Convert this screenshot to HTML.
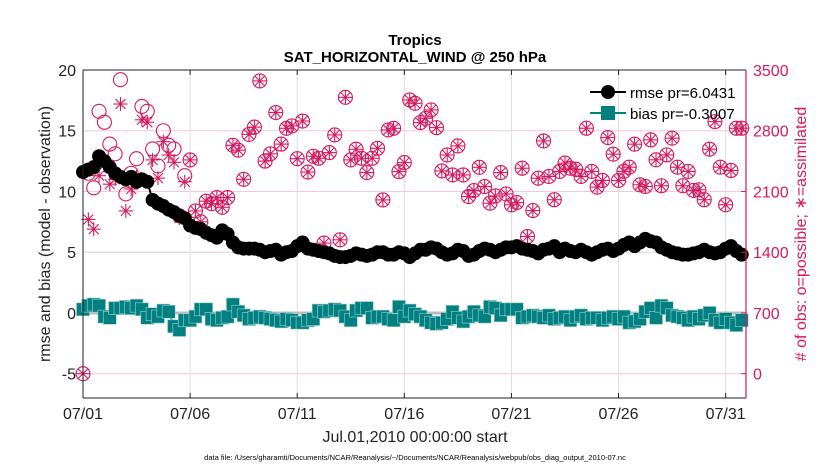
<!DOCTYPE html>
<html><head><meta charset="utf-8"><style>
body{margin:0;background:#fff;width:830px;height:470px;overflow:hidden}
svg text{font-family:"Liberation Sans",sans-serif}
</style></head><body>
<svg id="chart" width="830" height="470" viewBox="0 0 830 470" xmlns="http://www.w3.org/2000/svg">
<text x="415" y="45" text-anchor="middle" font-size="15" font-weight="bold">Tropics</text>
<text x="415" y="62" text-anchor="middle" font-size="15" font-weight="bold">SAT_HORIZONTAL_WIND @ 250 hPa</text>
<g id="grid"></g><g id="marks"></g><g id="axes"></g>
<text transform="translate(50,234) rotate(-90)" text-anchor="middle" font-size="16" fill="#222">rmse and bias (model - observation)</text>
<text transform="translate(806,234) rotate(-90)" text-anchor="middle" font-size="16" fill="#d6195f">#  of obs: o=possible; ∗=assimilated</text>
<text x="415" y="442" text-anchor="middle" font-size="16" fill="#222">Jul.01,2010 00:00:00 start</text>
<text x="415" y="460" text-anchor="middle" font-size="7.5" fill="#000">data file: /Users/gharamti/Documents/NCAR/Reanalysis/~/Documents/NCAR/Reanalysis/webpub/obs_diag_output_2010-07.nc</text>
<g id="legend">
<line x1="590" y1="92" x2="626" y2="92" stroke="#000" stroke-width="2"/><circle cx="608" cy="92" r="7" fill="#000"/>
<text x="630" y="98" font-size="15">rmse pr=6.0431</text>
<line x1="590" y1="113" x2="626" y2="113" stroke="#008080" stroke-width="2"/><rect x="601" y="106" width="14" height="14" fill="#008080"/>
<text x="630" y="119" font-size="15">bias pr=-0.3007</text>
</g>
</svg>
<script>
const xTickLabels=["07/01","07/06","07/11","07/16","07/21","07/26","07/31"];
const xTickDays=[0,5,10,15,20,25,30];
const leftTicks=[-5,0,5,10,15,20];
const rightTicks=[0,700,1400,2100,2800,3500];
const rmse=[11.6,11.8,12.0,12.9,12.5,12.0,11.5,11.2,11.0,11.2,10.8,11.0,10.8,9.3,9.0,8.8,8.5,8.3,8.0,7.8,7.2,7.0,6.9,6.6,6.4,6.2,6.8,6.5,5.8,5.4,5.3,5.3,5.3,5.2,5.0,5.1,5.2,4.8,5.0,5.1,5.5,5.8,5.3,5.2,5.1,5.0,4.9,4.7,4.6,4.6,4.7,4.9,4.8,4.7,4.8,5.0,5.0,4.8,4.8,5.0,4.9,4.6,4.9,5.2,5.2,5.4,5.3,5.0,4.8,4.9,5.2,5.1,4.7,4.8,5.1,5.3,5.2,5.0,5.2,5.4,5.4,5.5,5.3,5.2,5.1,4.9,5.2,5.3,5.5,5.0,5.3,5.1,5.0,5.2,5.0,4.8,5.0,5.2,5.3,5.1,5.3,5.6,5.8,5.5,5.8,6.1,5.9,5.8,5.4,5.2,5.0,4.9,4.8,4.8,4.9,5.0,5.2,5.0,4.9,5.0,5.3,5.5,5.1,4.8];
const bias=[0.3,0.6,0.7,0.6,-0.3,-0.4,0.4,0.4,0.5,0.4,0.6,0.3,-0.4,-0.1,-0.3,0.2,0.1,-1.1,-1.4,-0.6,-0.6,-0.3,0.3,0.3,-0.5,-0.6,-0.4,-0.3,0.7,0.1,-0.2,-0.5,-0.4,-0.3,-0.4,-0.5,-0.6,-0.7,-0.5,-0.6,-0.8,-0.8,-0.6,-0.5,0.2,0.1,0.2,0.3,0.2,-0.3,-0.6,0.2,0.4,0.4,-0.4,-0.3,-0.3,-0.5,-0.6,0.5,-0.3,0.2,-0.1,-0.3,-0.6,-0.8,-0.9,-0.8,-0.5,0.1,-0.4,-0.7,-0.3,0.1,-0.2,-0.3,0.5,0.4,-0.2,0.3,0.3,0.3,-0.4,-0.3,-0.2,-0.3,-0.4,-0.2,-0.5,-0.4,-0.3,-0.6,-0.3,-0.2,-0.5,-0.4,-0.4,-0.6,-0.4,-0.3,-0.5,-0.3,-0.8,-0.7,-0.5,0.1,0.4,-0.4,0.6,0.4,-0.2,-0.3,-0.4,-0.6,-0.3,-0.5,-0.2,0.0,-0.6,-0.8,-0.5,-0.8,-1.0,-0.6];
const possible=[0,2310,2142,3024,2898,2646,2534,3388,2072,2310,2478,3080,3024,2590,2394,2800,2632,2590,1820,2282,2464,1876,1750,1988,1960,2030,1918,2030,2632,2576,2240,2758,2842,3374,2450,2534,3010,2646,2828,2856,2478,2912,2324,2506,2483,1505,2548,2752,1543,3185,2464,2587,2483,2318,2483,2598,2003,2809,2828,2329,2433,3155,3116,2894,2943,3040,2836,2337,2521,2291,2625,2291,2042,2111,2379,2157,1965,2049,2318,2072,1946,1972,2368,1581,1880,2253,2683,2273,2005,2331,2427,2369,2357,2273,2829,2331,2150,2227,2721,2530,2227,2331,2380,2645,2177,2158,2695,2465,2166,2522,2714,2380,2166,2331,2112,2120,2005,2587,2905,2380,1947,2342,2829,2829];
const assimilated=[0,1778,1666,2282,2408,2184,2240,3108,1876,2128,2268,2926,2898,2464,2254,2674,2520,2436,1792,2212,2464,1876,1750,1988,1960,2030,1918,2030,2632,2576,2240,2758,2842,3374,2450,2534,3010,2646,2828,2856,2478,2912,2324,2506,2483,1505,2548,2752,1543,3185,2464,2587,2483,2318,2483,2598,2003,2809,2828,2329,2433,3155,3116,2894,2943,3040,2836,2337,2521,2291,2625,2291,2042,2111,2379,2157,1965,2049,2318,2072,1946,1972,2368,1581,1880,2253,2683,2273,2005,2331,2427,2369,2357,2273,2829,2331,2150,2227,2721,2530,2227,2331,2380,2645,2177,2158,2695,2465,2166,2522,2714,2380,2166,2331,2112,2120,2005,2587,2905,2380,1947,2342,2829,2829];

const L=83,R=746,T=70,B=398;
const xMin=0,xMax=30.95,yMin=-7,yMax=20;
const X=d=>L+(d-xMin)/(xMax-xMin)*(R-L);
const Y=v=>T+(yMax-v)/(yMax-yMin)*(B-T);
const Yr=o=>Y(o/140-5);
const NS="http://www.w3.org/2000/svg";
function mk(parent,tag,attrs){const e=document.createElementNS(NS,tag);for(const k in attrs)e.setAttribute(k,attrs[k]);parent.appendChild(e);return e;}
const grid=document.getElementById('grid'),marks=document.getElementById('marks'),axes=document.getElementById('axes');
const PINK="#d6195f",TEAL="#008080";
mk(grid,'rect',{x:L,y:T,width:R-L,height:B-T,fill:"#fff"});
leftTicks.forEach(v=>{
  const g=mk(grid,'line',{x1:L,x2:R,y1:Y(v),y2:Y(v),stroke:"#f7c6d8","stroke-width":1});
  
  
  const t=mk(axes,'text',{x:L-7,y:Y(v)+6,"text-anchor":"end","font-size":16,fill:"#222"});t.textContent=v;
  
  
});
xTickDays.forEach((d,i)=>{
  const g=mk(grid,'line',{x1:X(d),x2:X(d),y1:T,y2:B,stroke:"#ddd","stroke-width":1});
  
  
  mk(axes,'line',{x1:X(d),x2:X(d),y1:B,y2:B-5,stroke:"#222"});
  mk(axes,'line',{x1:X(d),x2:X(d),y1:T,y2:T+5,stroke:"#222"});
  const t=mk(axes,'text',{x:X(d),y:B+21,"text-anchor":"middle","font-size":16,fill:"#222"});t.textContent=xTickLabels[i];
  
  
});
rightTicks.forEach(o=>{
  mk(axes,'line',{x1:R,x2:R-5,y1:Yr(o),y2:Yr(o),stroke:PINK});
  const t=mk(axes,'text',{x:R+7,y:Yr(o)+6,"font-size":16,fill:PINK});t.textContent=o;
  
  
});
const zl=mk(grid,'line',{x1:L,x2:R,y1:Y(0),y2:Y(0),stroke:"#bbb","stroke-width":3});


possible.forEach((o,i)=>{
  const x=X(i/4),y=Yr(o);
  const c=mk(marks,'circle',{cx:x,cy:y,r:7,fill:"none",stroke:PINK,"stroke-width":1.1});
  
  
});
assimilated.forEach((o,i)=>{
  const x=X(i/4),y=Yr(o);
  const g=mk(marks,'g',{stroke:PINK,"stroke-width":1.1});
  
  
  for(let a=0;a<4;a++){const ang=a*Math.PI/4,dx=7*Math.cos(ang),dy=7*Math.sin(ang);mk(g,'line',{x1:x-dx,y1:y-dy,x2:x+dx,y2:y+dy});}
});
const bp=bias.map((v,i)=>X(i/4)+","+Y(v)).join(" ");
mk(marks,'polyline',{points:bp,fill:"none",stroke:TEAL,"stroke-width":2});
bias.forEach((v,i)=>{
  const r=mk(marks,'rect',{x:X(i/4)-6.5,y:Y(v)-6.5,width:13,height:13,fill:TEAL,stroke:"#9fd3d0","stroke-width":0.6});
  
  
});
const rp=rmse.map((v,i)=>X(i/4)+","+Y(v)).join(" ");
mk(marks,'polyline',{points:rp,fill:"none",stroke:"#000","stroke-width":2});
rmse.forEach((v,i)=>{
  const c=mk(marks,'circle',{cx:X(i/4),cy:Y(v),r:7,fill:"#000"});
  
  
});
mk(axes,'line',{x1:L,x2:L,y1:T,y2:B,stroke:"#222","stroke-width":1});
mk(axes,'line',{x1:L,x2:R,y1:B,y2:B,stroke:"#222","stroke-width":1});
mk(axes,'line',{x1:L,x2:R,y1:T,y2:T,stroke:"#222","stroke-width":1});
mk(axes,'line',{x1:R,x2:R,y1:T,y2:B,stroke:PINK,"stroke-width":1.2});
</script>
</body></html>
